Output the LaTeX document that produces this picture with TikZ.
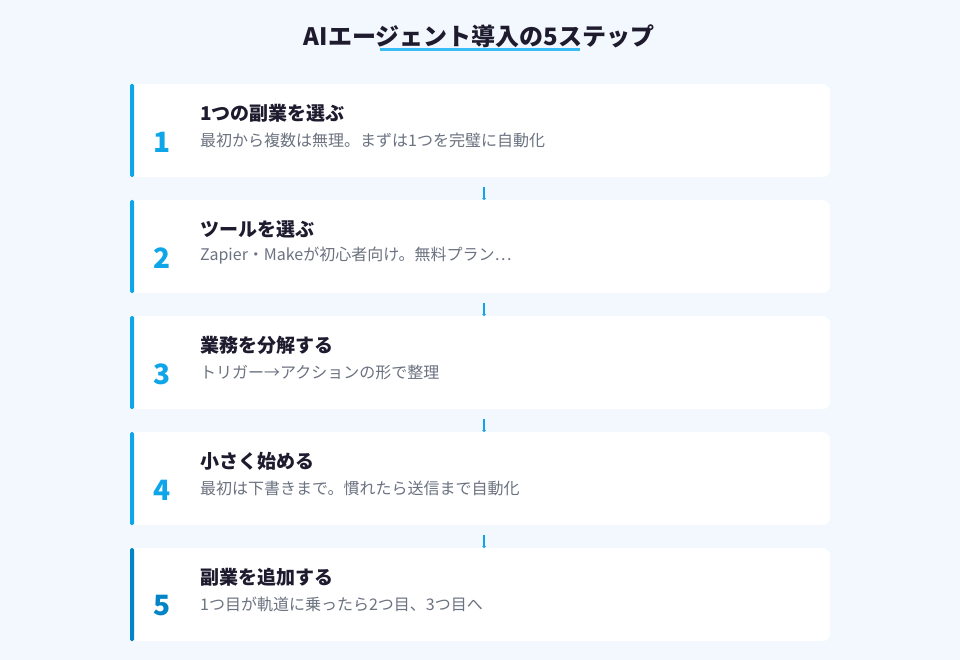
\documentclass[tikz,border=0pt]{standalone}
\usepackage{fontspec}
\setmainfont{Noto Sans CJK JP}
\usetikzlibrary{arrows.meta,calc}
\definecolor{bg}{HTML}{F3F8FE}
\definecolor{accent}{HTML}{0EA5E9}
\definecolor{accentdark}{HTML}{0284C7}
\definecolor{titlecol}{HTML}{1E1B2E}
\definecolor{desccol}{HTML}{6B7280}
\definecolor{uline}{HTML}{38BDF8}
\tikzset{
  card/.style={fill=white, rounded corners=8pt, minimum width=700pt, minimum height=93pt, inner sep=0pt, draw=none},
  ctitle/.style={anchor=west, font=\fontsize{19pt}{22pt}\selectfont\bfseries, text=titlecol, inner sep=0pt},
  cdesc/.style={anchor=west, font=\fontsize{16pt}{19pt}\selectfont, text=desccol, inner sep=0pt},
  cnum/.style={anchor=center, font=\fontsize{28pt}{30pt}\selectfont\bfseries, inner sep=0pt},
  conn/.style={draw=accent, line width=1.5pt, -{Stealth[length=2pt,width=4pt]}},
}
\begin{document}
\begin{tikzpicture}[x=1pt,y=-1pt]
\fill[bg] (0,0) rectangle (960,660);
\useasboundingbox (0,0) rectangle (960,660);
\node[font=\fontsize{24pt}{28pt}\selectfont\bfseries, text=titlecol, inner sep=0pt] (title) at (479,36) {AIエージェント導入の5ステップ};
\draw[uline, line width=3pt] (380,50) -- (580,50);
\foreach \i/\t/\d/\c in {
  1/{1つの副業を選ぶ}/{最初から複数は無理。まずは1つを完璧に自動化}/accent,
  2/{ツールを選ぶ}/{Zapier・Makeが初心者向け。無料プラン…}/accent,
  3/{業務を分解する}/{トリガー→アクションの形で整理}/accent,
  4/{小さく始める}/{最初は下書きまで。慣れたら送信まで自動化}/accent,
  5/{副業を追加する}/{1つ目が軌道に乗ったら2つ目、3つ目へ}/accentdark} {
  \pgfmathsetmacro{\yy}{84+116*(\i-1)}
  \node[card, anchor=north west] (card\i) at (130,\yy) {};
  \fill[\c, rounded corners=1.5pt] (130,\yy) rectangle (134,\yy+93);
  \node[ctitle] (t\i) at (200,\yy+29) {\t};
  \node[cdesc] (d\i) at (200,\yy+56) {\d};
  \node[cnum, text=\c] (n\i) at (162,\yy+58) {\i};
}
\foreach \i [evaluate=\i as \j using int(\i+1)] in {1,2,3,4} {
  \coordinate (s\i) at ($(card\i.south)+(4,10)$);
  \coordinate (e\i) at ($(card\j.north)+(4,0)$);
  \draw[conn] (s\i) -- (e\i);
}
\end{tikzpicture}
\end{document}
